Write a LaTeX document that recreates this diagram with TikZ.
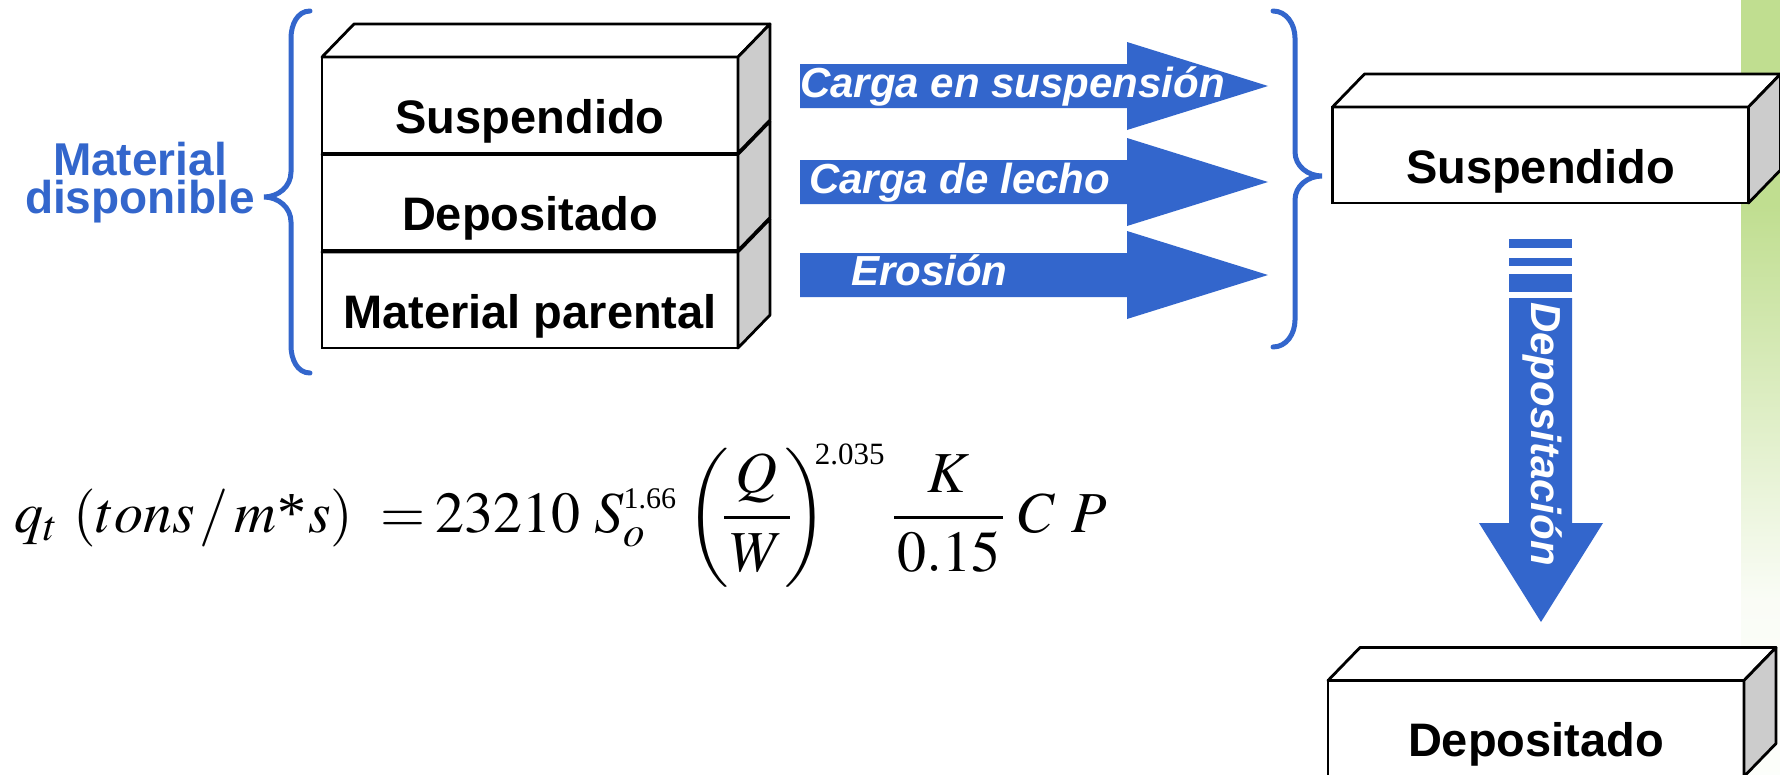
\documentclass[tikz,border=0pt]{standalone}
\usepackage{mathptmx}
\usepackage{amsmath}
\usepackage{fontspec}
\setmainfont{Liberation Serif}
\newfontfamily\arialfont{Liberation Sans}
\usetikzlibrary{positioning, calc}
\definecolor{flowblue}{HTML}{3366CC}
\definecolor{sidegray}{HTML}{CCCCCC}
\definecolor{stripegreen}{HTML}{C0DE90}

\begin{document}
\begin{tikzpicture}[x=1pt, y=-1pt,
  slab/.style={draw, fill=white, line width=2.8pt, outer sep=0pt, inner sep=0pt, minimum width=416pt, minimum height=96pt, text height=58pt, text depth=2pt, font=\arialfont\bfseries\fontsize{47}{47}\selectfont},
  lid/.style={draw, fill=white, line width=2.8pt, line join=round},
  side/.style={draw, fill=sidegray, line width=2.8pt, line join=round},
  flow/.style={fill=flowblue},
  flowtext/.style={anchor=base west, inner sep=0pt, text=white, font=\arialfont\bfseries\itshape\fontsize{42}{42}\selectfont},
  curly/.style={draw=flowblue, line width=5pt, line cap=round}]
  \useasboundingbox (0,0) rectangle (1780,774);
  \fill[white] (0,0) rectangle (1780,774);
  \fill[stripegreen] (1741,0) rectangle (1780,205);
  \shade[top color=stripegreen, bottom color=stripegreen!8] (1741,205) rectangle (1780,600);
  \shade[top color=stripegreen!8, bottom color=stripegreen!4] (1741,600) rectangle (1780,774);

  \node[slab] (parent) at (530,300) {Material parental};
  \draw[lid] (parent.north west) -- ++(32,-33) -- ++(416,0) -- (parent.north east) -- cycle;
  \draw[side] (parent.north east) -- ++(32,-33) -- ++(0,96) -- (parent.south east) -- cycle;
  \node[slab] (depo) at (530,202.5) {Depositado};
  \draw[lid] (depo.north west) -- ++(32,-33) -- ++(416,0) -- (depo.north east) -- cycle;
  \draw[side] (depo.north east) -- ++(32,-33) -- ++(0,96) -- (depo.south east) -- cycle;
  \node[slab] (susp) at (530,105) {Suspendido};
  \draw[lid] (susp.north west) -- ++(32,-33) -- ++(416,0) -- (susp.north east) -- cycle;
  \draw[side] (susp.north east) -- ++(32,-33) -- ++(0,96) -- (susp.south east) -- cycle;

  \node[slab] (suspout) at (1540.5,155) {Suspendido};
  \draw[lid] (suspout.north west) -- ++(32,-33) -- ++(416,0) -- (suspout.north east) -- cycle;
  \draw[side] (suspout.north east) -- ++(32,-33) -- ++(0,96) -- (suspout.south east) -- cycle;
  \node[slab] (depoout) at (1536,728.5) {Depositado};
  \draw[lid] (depoout.north west) -- ++(32,-33) -- ++(416,0) -- (depoout.north east) -- cycle;
  \draw[side] (depoout.north east) -- ++(32,-33) -- ++(0,96) -- (depoout.south east) -- cycle;

  \node[align=center, inner sep=0pt, text=flowblue, font=\arialfont\bfseries\fontsize{46}{38}\selectfont] (avail) at (140,182.5) {Material\\disponible};
  \draw[curly] (310,11) to[out=180,in=90] (291,38) -- (291,172) to[out=-90,in=0] (264,197) to[out=0,in=90] (291,222) -- (291,346) to[out=-90,in=180] (310,373);
  \draw[curly] (1273,11) to[out=0,in=90] (1295,38) -- (1295,152) to[out=-90,in=180] (1322,176) to[out=180,in=90] (1295,200) -- (1295,320) to[out=-90,in=0] (1273,347);

  \foreach \y in {86,182,275}
    \fill[flow] (800,\y-22) -- (1127,\y-22) -- (1127,\y-44) -- (1268,\y) -- (1127,\y+44) -- (1127,\y+22) -- (800,\y+22) -- cycle;
  \node[flowtext] (suspload) at (800,97) {Carga en suspensión};
  \node[flowtext] (bedload) at (809,193) {Carga de lecho};
  \node[flowtext] (erosion) at (851,285) {Erosión};

  \fill[flow] (1509,239) rectangle (1572,248);
  \fill[flow] (1509,258) rectangle (1572,266);
  \fill[flow] (1509,274) rectangle (1572,292);
  \fill[flow] (1509,298) -- (1572,298) -- (1572,523) -- (1603,523) -- (1541,622) -- (1479,523) -- (1509,523) -- cycle;
  \node[flowtext, rotate=-90] (deposit) at (1531,302) {Depositación};

  \node[anchor=base west, inner sep=0pt, font=\fontsize{58}{70}\selectfont] (qt) at (14,532)
    {$\displaystyle q_t\hspace{16pt}(tons\hspace{4pt}/\hspace{6pt}m\hspace{1pt}\mbox{*}\hspace{2pt}s)\hspace{27pt}\mathord{=}\hspace{10pt}23210\hspace{14pt}S_o^{\mbox{\fontsize{30}{30}\selectfont 1.66}}\hspace{10pt}\biggl(\!\frac{\,Q\,}{\,W\,}\!\biggr)^{\hspace{-12pt}\mbox{\fontsize{31}{31}\selectfont 2.035}}\hspace{8pt}\frac{K}{\hspace{3pt}0.15\hspace{3pt}}\hspace{14pt}C\hspace{16pt}P$};
\end{tikzpicture}
\end{document}
